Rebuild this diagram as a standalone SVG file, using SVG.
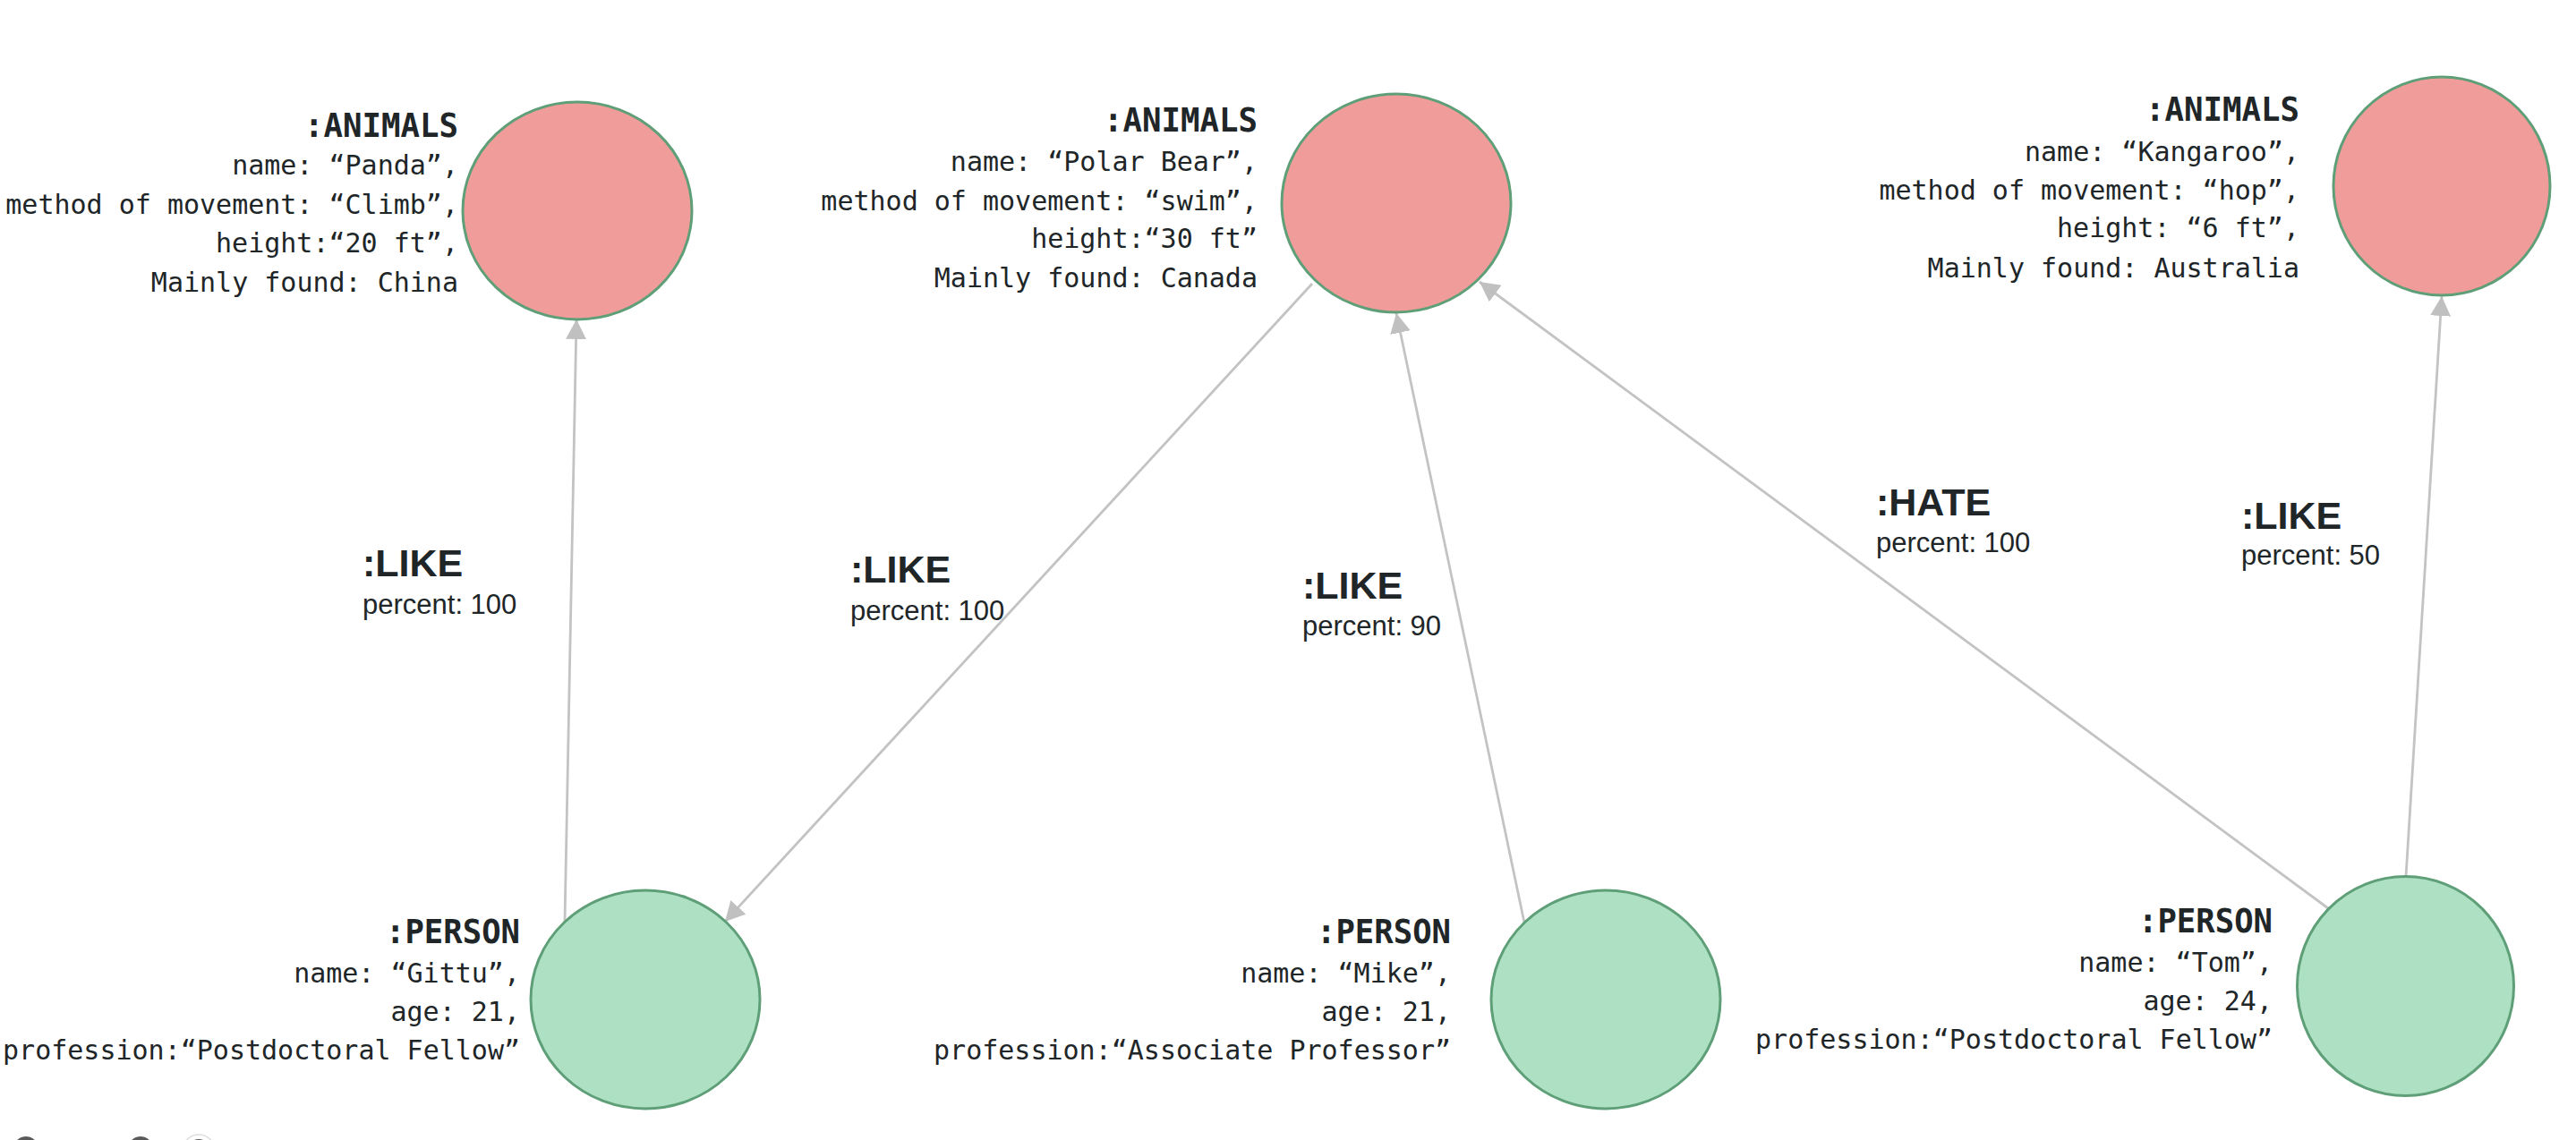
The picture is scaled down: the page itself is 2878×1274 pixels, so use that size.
<svg xmlns="http://www.w3.org/2000/svg" width="2878" height="1274" viewBox="0 0 2878 1274">
<defs>
<style>
.bg{fill:#ffffff}
.animal{fill:#f09c9a;stroke:#5f9f78;stroke-width:3}
.person{fill:#aee1c4;stroke:#5f9f78;stroke-width:3}
.ttl{font-family:"DejaVu Sans Mono","Liberation Mono",monospace;font-weight:bold;font-size:38px;fill:#202528;text-anchor:end}
.prop{font-family:"DejaVu Sans Mono","Liberation Mono",monospace;font-size:30px;fill:#202528;text-anchor:end}
.rel{font-family:"Liberation Sans",Arial,sans-serif;font-weight:bold;font-size:43px;fill:#202528}
.rp{font-family:"Liberation Sans",Arial,sans-serif;font-size:31px;fill:#202528}
.edge{stroke:#c3c3c3;stroke-width:2.8;fill:none;marker-end:url(#arr)}
.ctl{fill:#5a5a5a}
</style>
<marker id="arr" markerUnits="userSpaceOnUse" markerWidth="24" markerHeight="24" refX="22" refY="11.5" orient="auto">
<path d="M0,0 L22,11.5 L0,23 z" fill="#c0c0c0"/>
</marker>
</defs>
<rect class="bg" x="0" y="0" width="2878" height="1274"/>

<g id="connectors">
<path class="edge" d="M631,1030 L644,357"/>
<path class="edge" d="M1466,317 L810,1030"/>
<path class="edge" d="M1703,1031 L1560,350"/>
<path class="edge" d="M2601,1015 L1653,315"/>
<path class="edge" d="M2688,980 L2728,331"/>
</g>

<g id="edge-labels">
<g id="label-gittu-panda"><text class="rel" x="405" y="644">:LIKE</text><text class="rp" x="405" y="686">percent: 100</text></g>
<g id="label-polar-gittu"><text class="rel" x="950" y="651">:LIKE</text><text class="rp" x="950" y="693">percent: 100</text></g>
<g id="label-mike-polar"><text class="rel" x="1455" y="669">:LIKE</text><text class="rp" x="1455" y="710">percent: 90</text></g>
<g id="label-tom-polar"><text class="rel" x="2096" y="576">:HATE</text><text class="rp" x="2096" y="617">percent: 100</text></g>
<g id="label-tom-kangaroo"><text class="rel" x="2504" y="591">:LIKE</text><text class="rp" x="2504" y="631">percent: 50</text></g>
</g>

<g id="node-panda">
<ellipse class="animal" cx="645" cy="235.5" rx="128" ry="121.5"/>
<text class="ttl" x="512" y="153" textLength="172" lengthAdjust="spacingAndGlyphs">:ANIMALS</text>
<text class="prop" x="512" y="195">name: “Panda”,</text>
<text class="prop" x="512" y="239">method of movement: “Climb”,</text>
<text class="prop" x="512" y="282">height:“20 ft”,</text>
<text class="prop" x="512" y="326">Mainly found: China</text>
</g>

<g id="node-polarbear">
<ellipse class="animal" cx="1560" cy="227" rx="128" ry="122"/>
<text class="ttl" x="1405" y="147" textLength="172" lengthAdjust="spacingAndGlyphs">:ANIMALS</text>
<text class="prop" x="1405" y="191">name: “Polar Bear”,</text>
<text class="prop" x="1405" y="235">method of movement: “swim”,</text>
<text class="prop" x="1405" y="277">height:“30 ft”</text>
<text class="prop" x="1405" y="321">Mainly found: Canada</text>
</g>

<g id="node-kangaroo">
<ellipse class="animal" cx="2728" cy="208" rx="121" ry="122"/>
<text class="ttl" x="2569" y="135" textLength="172" lengthAdjust="spacingAndGlyphs">:ANIMALS</text>
<text class="prop" x="2569" y="180">name: “Kangaroo”,</text>
<text class="prop" x="2569" y="223">method of movement: “hop”,</text>
<text class="prop" x="2569" y="265">height: “6 ft”,</text>
<text class="prop" x="2569" y="310">Mainly found: Australia</text>
</g>

<g id="node-gittu">
<ellipse class="person" cx="721" cy="1117" rx="128" ry="122"/>
<text class="ttl" x="581" y="1054" textLength="150" lengthAdjust="spacingAndGlyphs">:PERSON</text>
<text class="prop" x="581" y="1098">name: “Gittu”,</text>
<text class="prop" x="581" y="1141">age: 21,</text>
<text class="prop" x="581" y="1184">profession:“Postdoctoral Fellow”</text>
</g>

<g id="node-mike">
<ellipse class="person" cx="1794" cy="1117" rx="128" ry="122"/>
<text class="ttl" x="1621" y="1054" textLength="150" lengthAdjust="spacingAndGlyphs">:PERSON</text>
<text class="prop" x="1621" y="1098">name: “Mike”,</text>
<text class="prop" x="1621" y="1141">age: 21,</text>
<text class="prop" x="1621" y="1184">profession:“Associate Professor”</text>
</g>

<g id="node-tom">
<ellipse class="person" cx="2687.5" cy="1102" rx="121" ry="122.5"/>
<text class="ttl" x="2539" y="1042" textLength="150" lengthAdjust="spacingAndGlyphs">:PERSON</text>
<text class="prop" x="2539" y="1086">name: “Tom”,</text>
<text class="prop" x="2539" y="1129">age: 24,</text>
<text class="prop" x="2539" y="1172">profession:“Postdoctoral Fellow”</text>
</g>

<g id="controls">
<circle class="ctl" cx="29" cy="1284" r="14"/>
<circle class="ctl" cx="157" cy="1284" r="14"/>
<circle cx="222" cy="1286" r="18" fill="none" stroke="#dddddd" stroke-width="1.5"/>
<circle class="ctl" cx="222" cy="1285" r="12"/>
</g>
</svg>
